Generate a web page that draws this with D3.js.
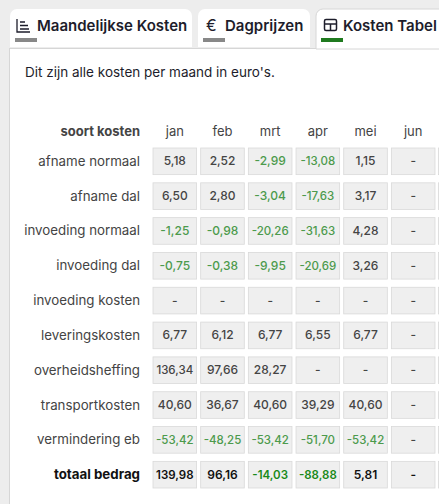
<!DOCTYPE html><html><head><meta charset="utf-8">
<script src="https://cdn.jsdelivr.net/npm/d3@7"></script>
<style>body{margin:0;background:#ededed;overflow:hidden}svg{display:block;font-family:Inter,sans-serif}</style></head><body>
<svg id="c" width="439" height="504"></svg>
<script>
const months=["jan","feb","mrt","apr","mei","jun"];
const rows=["afname normaal","afname dal","invoeding normaal","invoeding dal","invoeding kosten","leveringskosten","overheidsheffing","transportkosten","vermindering eb","totaal bedrag"];
const values=[
[5.18,2.52,-2.99,-13.08,1.15,null],
[6.50,2.80,-3.04,-17.63,3.17,null],
[-1.25,-0.98,-20.26,-31.63,4.28,null],
[-0.75,-0.38,-9.95,-20.69,3.26,null],
[null,null,null,null,null,null],
[6.77,6.12,6.77,6.55,6.77,null],
[136.34,97.66,28.27,null,null,null],
[40.60,36.67,40.60,39.29,40.60,null],
[-53.42,-48.25,-53.42,-51.70,-53.42,null],
[139.98,96.16,-14.03,-88.88,5.81,null]];
const tabs=[{t:"Maandelijkse Kosten",x0:10,x1:192},{t:"Dagprijzen",x0:198,x1:310},{t:"Kosten Tabel",x0:316,x1:450}];
const svg=d3.select("#c");
svg.append("rect").attr("x",9.5).attr("y",48.5).attr("width",440).attr("height",470).attr("fill","#fff").attr("stroke","#d6d6d6");
tabs.forEach((d,i)=>{
 const active=i==2;
 svg.append("path").attr("d",`M${d.x0},${active?49:47}V16a7,7 0 0 1 7,-7H${d.x1-7}a7,7 0 0 1 7,7V${active?49:47}Z`)
  .attr("fill","#fff").attr("stroke",active?"#d6d6d6":"none");
 svg.append("rect").attr("x",d.x0+5).attr("y",38).attr("width",22).attr("height",4).attr("fill",active?"#1f7a1f":"#888");
 svg.append("text").attr("x",d.x0+27).attr("y",31).attr("font-size",15).attr("font-weight",600).attr("fill","#1d1d2b").text(d.t);
});
const g=svg.append("g").attr("stroke","#1d1d2b").attr("fill","none").attr("stroke-width",1.3);
g.append("path").attr("d","M17,19V32H30M20,22H25M20,25.5H28M20,29H29");
svg.append("text").attr("x",206).attr("y",31).attr("font-size",16).attr("fill","#1d1d2b").text("€");
const t=svg.append("g").attr("stroke","#1d1d2b").attr("fill","none").attr("stroke-width",1.5);
t.append("rect").attr("x",324.5).attr("y",19.5).attr("width",12).attr("height",11).attr("rx",1.5);
t.append("path").attr("d","M324.5,24H336.5M330.5,24V30.5");
svg.append("text").attr("x",25).attr("y",77).attr("font-size",13.5).attr("fill","#1d1d2b").text("Dit zijn alle kosten per maand in euro's.");
const x=d3.scaleBand().domain(months).range([153,153+47*months.length]).paddingInner(0.085).paddingOuter(0);
const y=d3.scaleBand().domain(rows).range([148,488]).paddingInner(0.235);
svg.append("text").attr("x",140).attr("y",136).attr("text-anchor","end").attr("font-size",13).attr("font-weight",700).attr("fill","#444").text("soort kosten");
months.forEach(m=>svg.append("text").attr("x",x(m)+x.bandwidth()/2).attr("y",136).attr("text-anchor","middle").attr("font-size",13).attr("fill","#444").text(m));
const fmt=v=>v==null?"-":v.toFixed(2).replace(".",",");
rows.forEach((r,ri)=>{
 const tot=ri==rows.length-1;
 svg.append("text").attr("x",140).attr("y",y(r)+y.bandwidth()/2+4.5).attr("text-anchor","end").attr("font-size",13.3).attr("font-weight",tot?700:400).attr("fill",tot?"#111":"#444").text(r);
 // partially visible next column (jul)
 svg.append("rect").attr("x",x("jun")+47).attr("y",y(r)).attr("width",x.bandwidth()).attr("height",y.bandwidth()).attr("fill","#efefef").attr("stroke","#d9d9d9").attr("stroke-width",0.8);
 months.forEach((m,mi)=>{
  const v=values[ri][mi];
  svg.append("rect").attr("x",x(m)).attr("y",y(r)).attr("width",x.bandwidth()).attr("height",y.bandwidth()).attr("fill","#efefef").attr("stroke","#d9d9d9").attr("stroke-width",0.8);
  const big=v!=null&&(Math.abs(v)>=100||(Math.abs(v)>=10&&v<0));
  svg.append("text").attr("x",x(m)+x.bandwidth()/2).attr("y",y(r)+y.bandwidth()/2+4).attr("text-anchor","middle").attr("font-size",big?11.5:12).attr("font-weight",tot?600:500)
   .attr("fill",v!=null&&v<0?(tot?"#1a8a1a":"#4c9a4c"):(tot?"#111":"#444")).text(fmt(v));
 });
});
</script></body></html>
